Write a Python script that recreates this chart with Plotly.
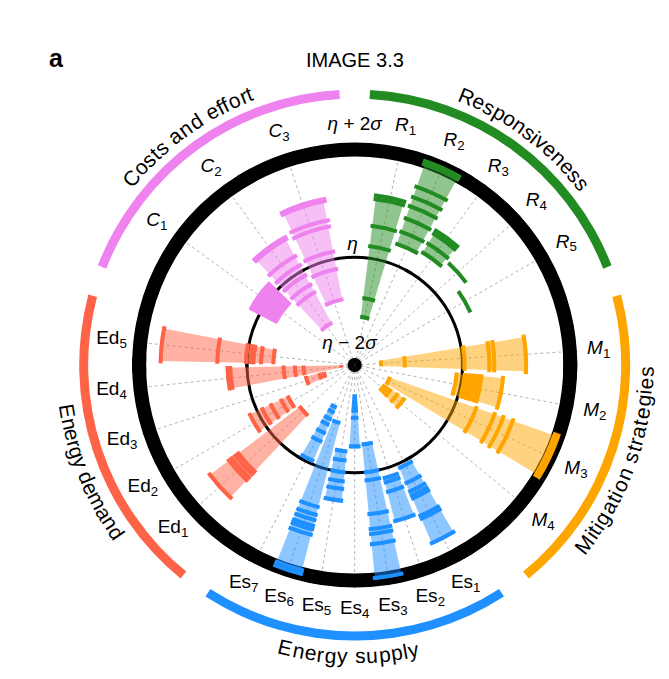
import numpy as np
import plotly.graph_objects as go

FIG_W, FIG_H = 669, 679
CX, CY = 346.7, 357.0          # centre of the circle, page pixels
PX_PER_UNIT = 53.9             # pixels per sigma unit
R_MIN, R_MAX = -2.0, 2.14      # inner polar range (sigma units)
OUTER_PX = 300.0               # outer helper polar radius (px units)

# ---------------- data ----------------
cat_names = ["Responsiveness", "Mitigation strategies", "Energy supply",
             "Energy demand", "Costs and effort"]
cat_colors = ["#228B22", "#FFA500", "#1E90FF", "#FF6347", "#EE82EE"]
cat_fills = ["rgba(34,139,34,0.5)", "rgba(255,165,0,0.5)", "rgba(30,144,255,0.5)",
             "rgba(255,99,71,0.5)", "rgba(238,130,238,0.5)"]
cat_start = [0, 72, 144, 216, 288]

R_labels = ["<i>R</i><sub>%d</sub>" % i for i in range(1, 6)]
M_labels = ["<i>M</i><sub>%d</sub>" % i for i in range(1, 5)]
Es_labels = ["Es<sub>%d</sub>" % i for i in range(1, 8)]
Ed_labels = ["Ed<sub>%d</sub>" % i for i in range(1, 6)]
C_labels = ["<i>C</i><sub>%d</sub>" % i for i in range(1, 4)]

R_ticks = [
    [-1.10, -0.75, 0.22, 0.60, 1.10, 1.17],
    [0.38, 0.62, 0.88, 1.12, 1.30, 1.50, 1.94, 2.00],
    [0.44, 0.63, 0.84, 0.91],
    [0.57],
    [0.36],
]
M_ticks = [
    [-1.51, -1.07, 0.04, 0.50, 0.59, 1.18],
    [-0.10, 0.05, 0.11, 0.17, 0.23, 0.30, 0.36, 0.76],
    [-1.31, 0.39, 0.75, 0.92, 1.11, 1.93, 2.00],
    [-1.33, -1.26, -1.19, -1.04, -0.89],
]
Es_ticks = [
    [0.08, 0.39, 0.56, 0.64, 0.70, 1.05, 1.11, 1.60],
    [0.17, 0.25, 0.43, 0.99],
    [-0.52, 0.00, 0.15, 0.78, 1.06, 1.15, 1.34, 1.97],
    [-1.42, -1.35, -1.28, -1.21, -1.15, -1.02, -0.49],
    [-0.39, -0.22, 0.00, 0.17, 0.31, 0.53],
    [-0.89, 0.72, 0.87, 0.97, 1.08, 1.15, 1.25, 1.93, 2.00],
    [-1.14, -1.04, -0.90, -0.79, -0.62, -0.45, -0.06],
]
Ed_ticks = [
    [-0.72, 0.71, 0.78, 0.86, 0.93, 1.37],
    [-0.63, -0.49, -0.28, -0.10, 0.15],
    [-1.41, -1.33, -1.07],
    [-1.75, -1.05, -0.89, -0.68, 0.31, 0.36],
    [-0.49, -0.26, -0.12, -0.07, 0.02, 0.55, 1.60],
]
C_ticks = [
    [-0.33, -0.27, -0.21, -0.15, -0.09, -0.03, 0.03, 0.09, 0.15, 0.19],
    [-1.11, -0.46, -0.30, -0.10, 0.11, 0.30, 0.66, 0.70],
    [-0.76, -0.19, 0.14, 0.61, 0.73, 1.09, 1.13],
]

cat_labels = [R_labels, M_labels, Es_labels, Ed_labels, C_labels]
cat_ticks = [R_ticks, M_ticks, Es_ticks, Ed_ticks, C_ticks]

# category text: angular span (first/last letter centre) and orientation
cat_text_span = [(22.6, 51.4), (128.0, 91.2), (193.8, 168.3), (260.8, 234.9), (309.8, 338.8)]
cat_text_style = ["top", "bottom", "bottom", "bottom", "top"]

# ---------------- build ----------------
TICK_T = 0.075
CAT_SPAN = 72.0
FONT = "Liberation Sans"

fig = go.Figure()

def ring(base, thick, color, sub):
    th = [0, 60, 120, 180, 240, 300]
    fig.add_trace(go.Barpolar(theta=th, r=[thick] * len(th), base=[base] * len(th),
                              width=[64] * len(th), marker=dict(color=color, line=dict(width=0)),
                              subplot=sub, showlegend=False, hoverinfo="skip"))

# outer black ring (eta + 2 sigma), eta ring, centre dot
ring(1.87, 0.26, "black", "polar")
ring(-0.028, 0.056, "black", "polar")
ring(-2.0, 0.13, "black", "polar")

all_theta, all_text = [], []
for ci in range(5):
    n = len(cat_labels[ci])
    step = CAT_SPAN / (n + 1)
    thetas = [cat_start[ci] + step * (k + 1) for k in range(n)]
    all_theta += thetas
    all_text += cat_labels[ci]
    # translucent bars
    bt, bb, br = [], [], []
    for th, tk in zip(thetas, cat_ticks[ci]):
        if len(tk) > 1:
            bt.append(th)
            bb.append(min(tk) - TICK_T / 2)
            br.append(max(tk) - min(tk) + TICK_T)
    fig.add_trace(go.Barpolar(theta=bt, r=br, base=bb, width=[step * 0.8] * len(bt),
                              marker=dict(color=cat_fills[ci], line=dict(width=0)),
                              subplot="polar", showlegend=False, hoverinfo="skip"))
    # opaque ticks
    tt, tb = [], []
    for th, tk in zip(thetas, cat_ticks[ci]):
        for v in tk:
            tt.append(th)
            tb.append(v - TICK_T / 2)
    fig.add_trace(go.Barpolar(theta=tt, r=[TICK_T] * len(tt), base=tb,
                              width=[step * 0.92] * len(tt),
                              marker=dict(color=cat_colors[ci], line=dict(width=0)),
                              subplot="polar", showlegend=False, hoverinfo="skip"))

# eta labels inside
fig.add_trace(go.Scatterpolar(r=[0.22, -1.60], theta=[359, 346], mode="text",
                              text=["<i>η</i>", "<i>η</i> − 2<i>σ</i>"],
                              textfont=dict(size=19, color="black", family=FONT),
                              subplot="polar", showlegend=False, hoverinfo="skip"))

# outer helper polar: category arcs and indicator labels
arc_gap = 3.2
fig.add_trace(go.Barpolar(theta=[s + CAT_SPAN / 2 for s in cat_start],
                          r=[9] * 5, base=[266.5] * 5,
                          width=[CAT_SPAN - 2 * arc_gap] * 5,
                          marker=dict(color=cat_colors, line=dict(width=0)),
                          subplot="polar2", showlegend=False, hoverinfo="skip"))
fig.add_trace(go.Scatterpolar(r=[244.5] * len(all_theta) + [240], theta=all_theta + [0],
                              mode="text", text=all_text + ["<i>η</i> + 2<i>σ</i>"],
                              textfont=dict(size=19, color="black", family=FONT),
                              subplot="polar2", showlegend=False, hoverinfo="skip"))

# curved category texts
W = {' ': 278, 'a': 556, 'c': 500, 'd': 556, 'e': 556, 'f': 278, 'g': 556, 'i': 222,
     'l': 222, 'm': 833, 'n': 556, 'o': 556, 'p': 556, 'r': 333, 's': 500, 't': 278,
     'u': 556, 'v': 500, 'y': 500, 'C': 722, 'E': 667, 'M': 833, 'R': 722}
annotations = []
TEXT_R = 291.0
for name, (a0, a1), style in zip(cat_names, cat_text_span, cat_text_style):
    w = np.array([W.get(ch, 556) for ch in name], dtype=float)
    cen = np.cumsum(w) - w / 2
    frac = (cen - cen[0]) / (cen[-1] - cen[0])
    angs = a0 + frac * (a1 - a0)
    for ch, a in zip(name, angs):
        if ch == ' ':
            continue
        rad = np.deg2rad(a)
        px = CX + TEXT_R * np.sin(rad)
        py = CY - TEXT_R * np.cos(rad)
        rot = a if style == "top" else a - 180
        rot = (rot + 180) % 360 - 180
        annotations.append(dict(x=px / FIG_W, y=1 - py / FIG_H, xref="paper", yref="paper",
                                text=ch, showarrow=False, textangle=rot,
                                xanchor="center", yanchor="middle",
                                font=dict(size=21, color="black", family=FONT)))

annotations.append(dict(x=347 / FIG_W, y=1 - 52 / FIG_H, xref="paper", yref="paper",
                        text="IMAGE 3.3", showarrow=False, xanchor="center", yanchor="middle",
                        font=dict(size=20, color="black", family=FONT)))
annotations.append(dict(x=48 / FIG_W, y=1 - 50 / FIG_H, xref="paper", yref="paper",
                        text="<b>a</b>", showarrow=False, xanchor="center", yanchor="middle",
                        font=dict(size=25, color="black", family=FONT)))

r1 = PX_PER_UNIT * (R_MAX - R_MIN)
dom1 = dict(x=[(CX - r1) / FIG_W, (CX + r1) / FIG_W],
            y=[(FIG_H - CY - r1) / FIG_H, (FIG_H - CY + r1) / FIG_H])
dom2 = dict(x=[(CX - OUTER_PX) / FIG_W, (CX + OUTER_PX) / FIG_W],
            y=[(FIG_H - CY - OUTER_PX) / FIG_H, (FIG_H - CY + OUTER_PX) / FIG_H])

fig.update_layout(
    width=FIG_W, height=FIG_H,
    margin=dict(l=0, r=0, t=0, b=0),
    paper_bgcolor="white",
    showlegend=False,
    annotations=annotations,
    polar=dict(
        domain=dom1, bgcolor="white", barmode="overlay",
        radialaxis=dict(range=[R_MIN, R_MAX], visible=False),
        angularaxis=dict(rotation=90, direction="clockwise", thetaunit="degrees",
                         tickmode="array", tickvals=all_theta, showticklabels=False,
                         ticks="", showline=False, showgrid=True,
                         gridcolor="#b4b4b4", gridwidth=1.2, griddash="dot"),
    ),
    polar2=dict(
        domain=dom2, bgcolor="rgba(0,0,0,0)", barmode="overlay",
        radialaxis=dict(range=[0, OUTER_PX], visible=False),
        angularaxis=dict(rotation=90, direction="clockwise", visible=False,
                         thetaunit="degrees"),
    ),
)

fig.write_html("out.html")
